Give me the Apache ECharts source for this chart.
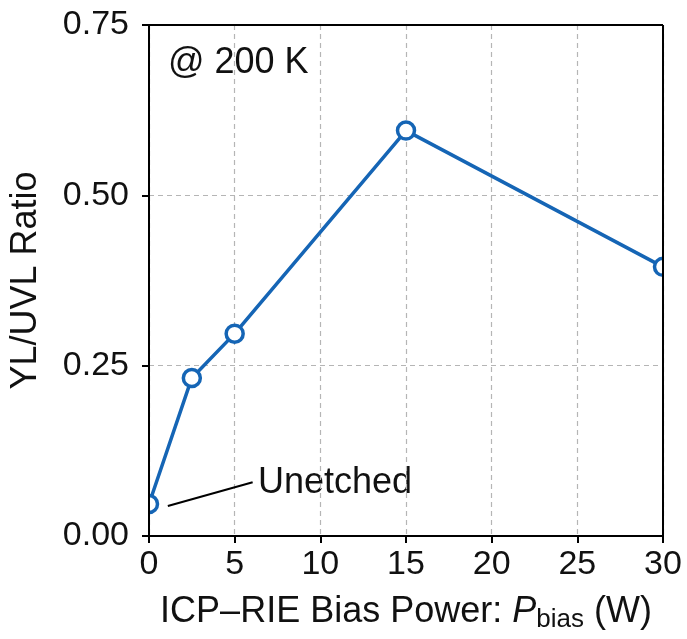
<!DOCTYPE html>
<html>
<head>
<meta charset="utf-8">
<script src="https://cdn.jsdelivr.net/npm/echarts@6/dist/echarts.min.js"></script>
<style>
  html, body { margin: 0; padding: 0; background: #fff; }
  #chart { width: 687px; height: 639px; }
</style>
</head>
<body>
<div id="chart"></div>
<script>
// bias power (W) and YL/UVL ratio
const biasPower = [0, 2.5, 5, 15, 30];
const ratio = [0.047, 0.232, 0.297, 0.595, 0.395];
const xTicks = [0, 5, 10, 15, 20, 25, 30];
const yTicks = [0, 0.25, 0.5, 0.75];

const FONT = '"Liberation Sans", Arial, Helvetica, sans-serif';
const BLUE = '#1565b5';

let myChart = echarts.init(document.getElementById('chart'));
let option = {
  animation: false,
  grid: { left: 149, right: 24, top: 25, bottom: 103, containLabel: false, outerBoundsMode: 'none' },
  xAxis: {
    type: 'value',
    min: xTicks[0],
    max: xTicks[xTicks.length - 1],
    interval: 5,
    name: 'ICP–RIE Bias Power: {i|P}{sub|bias} (W)',
    nameLocation: 'middle',
    nameGap: 55,
    nameTextStyle: {
      fontFamily: FONT, fontSize: 36, color: '#111',
      rich: {
        i: { fontFamily: FONT, fontSize: 36, fontStyle: 'italic', color: '#111' },
        sub: { fontFamily: FONT, fontSize: 26, color: '#111', padding: [16, 0, 0, 0] }
      }
    },
    axisLine: { show: true, onZero: false, lineStyle: { color: '#000', width: 2 } },
    axisTick: { show: true, length: 7, lineStyle: { color: '#000', width: 2 } },
    axisLabel: { fontFamily: FONT, fontSize: 34, color: '#111', margin: 12 },
    splitLine: { show: true, lineStyle: { color: '#b5b5b5', type: [5, 4], width: 1.2 } }
  },
  yAxis: {
    type: 'value',
    min: yTicks[0],
    max: yTicks[yTicks.length - 1],
    interval: 0.25,
    name: 'YL/UVL Ratio',
    nameLocation: 'middle',
    nameGap: 105,
    nameTextStyle: { fontFamily: FONT, fontSize: 36, color: '#111' },
    axisLine: { show: true, onZero: false, lineStyle: { color: '#000', width: 2 } },
    axisTick: { show: true, length: 7, lineStyle: { color: '#000', width: 2 } },
    axisLabel: {
      fontFamily: FONT, fontSize: 34, color: '#111', margin: 20,
      formatter: v => v.toFixed(2)
    },
    splitLine: { show: true, lineStyle: { color: '#b5b5b5', type: [5, 4], width: 1.2 } }
  },
  graphic: [
    // hide the halves of the edge markers that stick out of the frame
    { type: 'rect', shape: { x: 126, y: 488, width: 22, height: 32 }, style: { fill: '#fff' }, z: 50 },
    { type: 'rect', shape: { x: 664, y: 250, width: 23, height: 34 }, style: { fill: '#fff' }, z: 50 },
    // frame on top of the markers
    { type: 'line', shape: { x1: 149, y1: 25, x2: 663, y2: 25 }, style: { stroke: '#000', lineWidth: 2 }, z: 60 },
    { type: 'line', shape: { x1: 663, y1: 25, x2: 663, y2: 536 }, style: { stroke: '#000', lineWidth: 2 }, z: 60 },
    { type: 'line', shape: { x1: 149, y1: 25, x2: 149, y2: 536 }, style: { stroke: '#000', lineWidth: 2 }, z: 60 },
    { type: 'text', x: 168, y: 63, style: { text: '@ 200 K', font: '36px ' + FONT, fill: '#111', verticalAlign: 'middle' } },
    { type: 'text', x: 258, y: 483, style: { text: 'Unetched', font: '36px ' + FONT, fill: '#111', verticalAlign: 'middle' } }
  ],
  series: [
    {
      type: 'line',
      data: biasPower.map((x, i) => [x, ratio[i]]),
      clip: false,
      lineStyle: { color: BLUE, width: 3.5 },
      symbol: 'circle',
      symbolSize: 17,
      itemStyle: { color: '#fff', borderColor: BLUE, borderWidth: 3.5 },
      z: 5,
      markLine: {
        silent: true,
        symbol: 'none',
        label: { show: false },
        lineStyle: { color: '#000', width: 2, type: 'solid' },
        data: [[{ coord: [1.1, 0.044] }, { coord: [6.05, 0.079] }]]
      }
    }
  ]
};
myChart.setOption(option);
</script>
</body>
</html>
